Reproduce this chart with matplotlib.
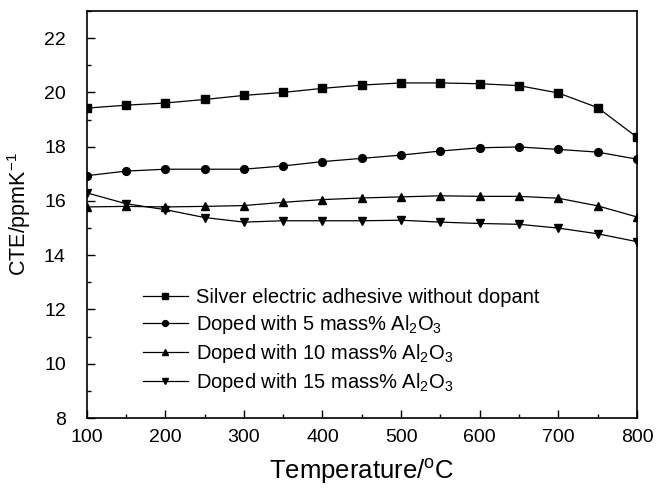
import matplotlib
matplotlib.use('Agg')
import matplotlib.pyplot as plt
from matplotlib.ticker import MultipleLocator

plt.rcParams['font.family'] = ['Liberation Sans', 'DejaVu Sans']
plt.rcParams['mathtext.fontset'] = 'custom'
plt.rcParams['mathtext.rm'] = 'Liberation Sans'
plt.rcParams['mathtext.it'] = 'Liberation Sans:italic'

# temperature (C) and CTE (ppm/K)
temp = [100, 150, 200, 250, 300, 350, 400, 450, 500, 550, 600, 650, 700, 750, 800]
cte_0 = [19.42, 19.53, 19.61, 19.74, 19.89, 20.0, 20.15, 20.27, 20.35, 20.35,
         20.32, 20.25, 19.98, 19.44, 18.35]
cte_5 = [16.93, 17.10, 17.17, 17.17, 17.17, 17.29, 17.45, 17.57, 17.69, 17.84,
         17.96, 17.99, 17.90, 17.80, 17.54]
cte_10 = [15.78, 15.80, 15.78, 15.80, 15.83, 15.95, 16.05, 16.11, 16.15, 16.19,
          16.17, 16.17, 16.10, 15.82, 15.41]
cte_15 = [16.30, 15.90, 15.68, 15.39, 15.22, 15.27, 15.27, 15.27, 15.29, 15.22,
          15.17, 15.14, 15.0, 14.79, 14.5]

labels = ['Silver electric adhesive without dopant',
          r'Doped with 5 mass% Al$_2$O$_3$',
          r'Doped with 10 mass% Al$_2$O$_3$',
          r'Doped with 15 mass% Al$_2$O$_3$']

fig = plt.figure(figsize=(6.56, 4.88), dpi=100)
ax = fig.add_axes([0.132, 0.1434, 0.839, 0.834])

ax.plot(temp, cte_0, '-s', color='black', lw=0.9, ms=5.3, label=labels[0])
ax.plot(temp, cte_5, '-o', color='black', lw=0.9, ms=5.6, label=labels[1])
ax.plot(temp, cte_10, '-^', color='black', lw=0.9, ms=6.3, label=labels[2])
ax.plot(temp, cte_15, '-v', color='black', lw=0.9, ms=6.3, label=labels[3])

ax.set_xlim(100, 800)
ax.set_ylim(8, 23)
ax.xaxis.set_major_locator(MultipleLocator(100))
ax.xaxis.set_minor_locator(MultipleLocator(50))
ax.yaxis.set_major_locator(MultipleLocator(2))
ax.yaxis.set_minor_locator(MultipleLocator(1))
ax.tick_params(which='both', direction='in', top=False, right=False,
               labelsize=14, width=1.0)
ax.tick_params(axis='x', which='major', length=6, pad=8)
ax.tick_params(axis='y', which='major', length=6, pad=15)
ax.tick_params(which='minor', length=3)
for s in ax.spines.values():
    s.set_linewidth(1.2)

ax.set_xlabel(r'Temperature/$^{\rm o}$C', fontsize=18.5, labelpad=8)
ax.set_ylabel(r'CTE/ppmK$^{-1}$', fontsize=15.5, labelpad=8)

ax.legend(loc='lower left', bbox_to_anchor=(0.07, 0.015), frameon=False,
          fontsize=14.5, handlelength=2.2, handletextpad=0.4,
          labelspacing=0.3, markerscale=0.75)

fig.savefig('out.png', dpi=100)
